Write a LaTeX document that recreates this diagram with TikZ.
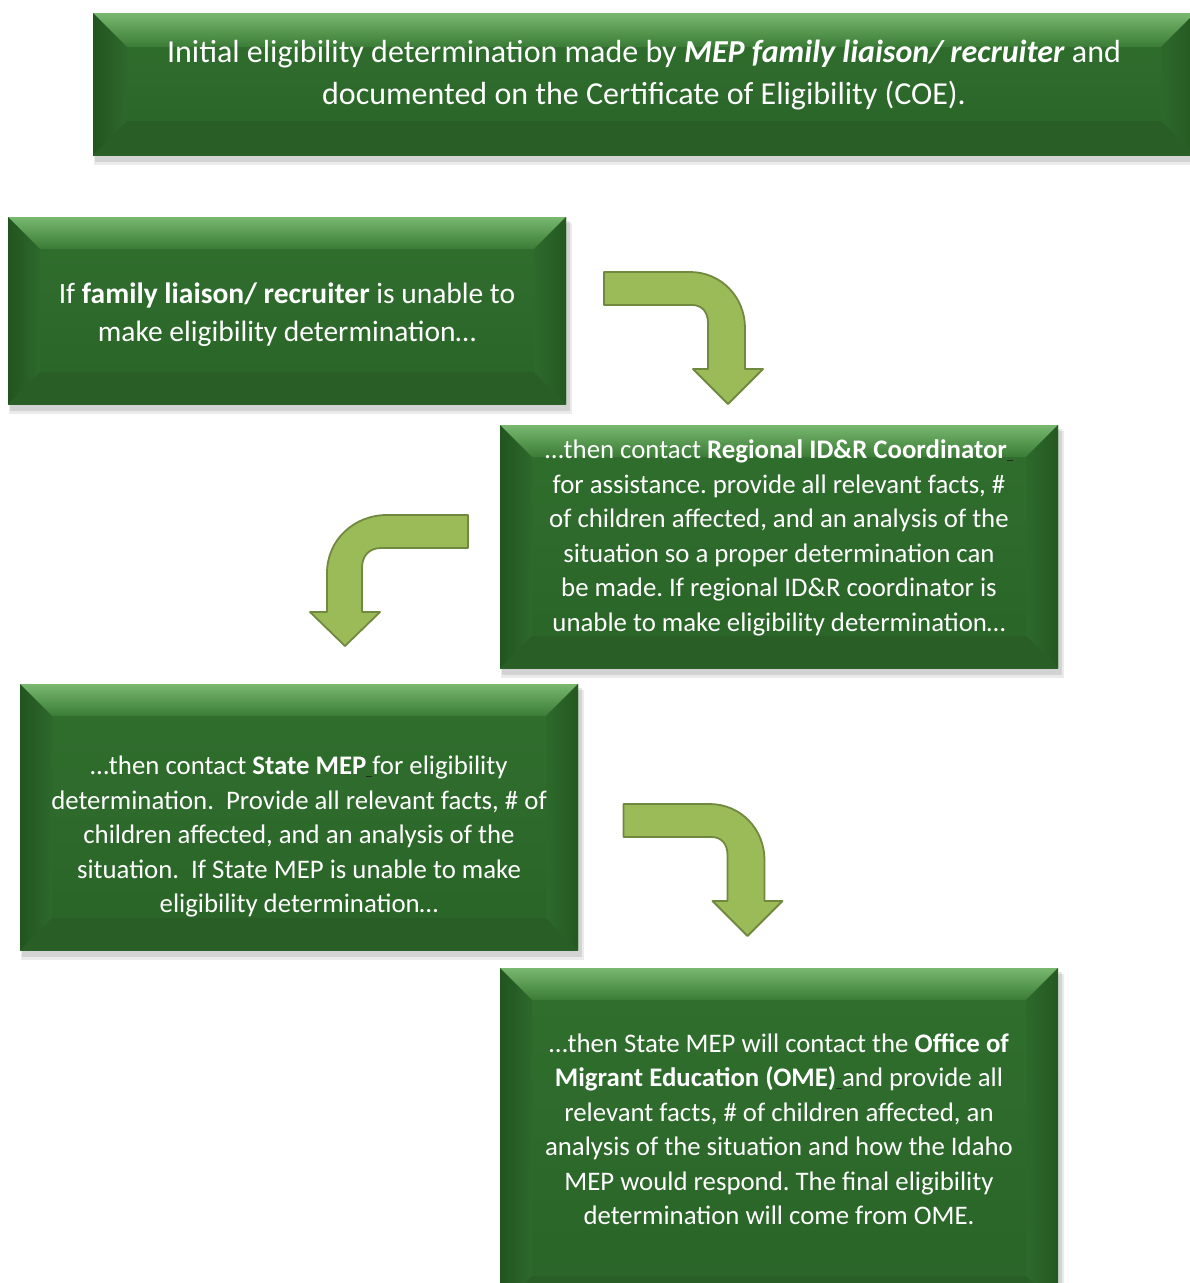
\documentclass[tikz,border=0pt]{standalone}
\usepackage{fontspec}
\setmainfont{Carlito}
\usetikzlibrary{calc}
\definecolor{faceTop}{HTML}{306F2E}
\definecolor{faceBot}{HTML}{2A6428}
\definecolor{bevTopA}{HTML}{78B86F}
\definecolor{bevTopB}{HTML}{3A7B36}
\definecolor{bevLo}{HTML}{22541F}
\definecolor{bevLi}{HTML}{2E692C}
\definecolor{bevRo}{HTML}{24591F}
\definecolor{bevB}{HTML}{295F26}
\definecolor{arrowFill}{HTML}{9BBB59}
\definecolor{arrowLine}{HTML}{71893F}
\newcommand\bevelbox[2]{%
  \fill[black,opacity=0.10] ($(#1.north west)+(2,4)$) rectangle ($(#1.south east)+(4,7)$);
  \fill[black,opacity=0.08] ($(#1.north west)+(1,6)$) rectangle ($(#1.south east)+(6,10)$);
  \shade[top color=faceTop,bottom color=faceBot] (#1.north west) rectangle (#1.south east);
  \shade[top color=bevTopA,bottom color=bevTopB] (#1.north west) -- (#1.north east) -- ($(#1.north east)+(-#2,#2)$) -- ($(#1.north west)+(#2,#2)$) -- cycle;
  \shade[left color=bevLo,right color=bevLi] (#1.north west) -- ($(#1.north west)+(#2,#2)$) -- ($(#1.south west)+(#2,-#2)$) -- (#1.south west) -- cycle;
  \shade[left color=bevLi,right color=bevRo] (#1.north east) -- ($(#1.north east)+(-#2,#2)$) -- ($(#1.south east)+(-#2,-#2)$) -- (#1.south east) -- cycle;
  \fill[bevB] (#1.south west) -- ($(#1.south west)+(#2,-#2)$) -- ($(#1.south east)+(-#2,-#2)$) -- (#1.south east) -- cycle;
}
\newcommand\uspace{\textcolor{black!85}{\rule[-2.5pt]{0.22em}{1pt}}}
\tikzset{
  boxnode/.style={rectangle, inner sep=0pt, outer sep=0pt},
  boxtext/.style={text=white, align=center, inner sep=0pt},
  bentarrow/.style={fill=arrowFill, draw=arrowLine, line width=1.8pt, line join=round},
}
\frenchspacing
\begin{document}
\begin{tikzpicture}[x=1pt,y=-1pt]
\useasboundingbox (0,0) rectangle (1190,1283);
\clip (0,0) rectangle (1190,1283);
\fill[white] (0,0) rectangle (1190,1283);

% boxes
\node[boxnode, minimum width=1102pt, minimum height=142pt] (b1) at (644,84) {};
\node[boxnode, minimum width=558pt, minimum height=187pt] (b2) at (287,310.5) {};
\node[boxnode, minimum width=558pt, minimum height=243pt] (b3) at (779,546.5) {};
\node[boxnode, minimum width=558pt, minimum height=266pt] (b4) at (299,817) {};
\node[boxnode, minimum width=558pt, minimum height=340pt] (b5) at (779,1138) {};
\bevelbox{b1}{34}
\bevelbox{b2}{32}
\bevelbox{b3}{32}
\bevelbox{b4}{32}
\bevelbox{b5}{32}

% texts
\node[boxtext, font=\fontsize{32}{42}\selectfont] (t1) at (644,75.5)
  {Initial eligibility determination made by \textbf{\textit{MEP family liaison/ recruiter}} and\\
   documented on the Certificate of Eligibility (COE).};
\node[boxtext, font=\fontsize{29.5}{38}\selectfont] (t2) at (287,315)
  {If \textbf{family liaison/ recruiter} is unable to\\make eligibility determination…};
\node[boxtext, font=\fontsize{26.8}{34.5}\selectfont] (t3) at (779,538)
  {…then contact \textbf{Regional ID\&R Coordinator}\uspace\\
   for assistance. provide all relevant facts, \#\\
   of children affected, and an analysis of the\\
   situation so a proper determination can\\
   be made. If regional ID\&R coordinator is\\
   unable to make eligibility determination…};
\node[boxtext, font=\fontsize{26.8}{34.5}\selectfont] (t4) at (299,836.5)
  {…then contact \textbf{State MEP}\uspace for eligibility\\
   determination.\ \ Provide all relevant facts, \# of\\
   children affected, and an analysis of the\\
   situation.\ \ If State MEP is unable to make\\
   eligibility determination…};
\node[boxtext, font=\fontsize{26.8}{34.5}\selectfont] (t5) at (779,1129)
  {…then State MEP will contact the \textbf{Office of}\\
   \textbf{Migrant Education (OME)}\uspace and provide all\\
   relevant facts, \# of children affected, an\\
   analysis of the situation and how the Idaho\\
   MEP would respond. The final eligibility\\
   determination will come from OME.};

% bent arrows
\draw[bentarrow] (604,272) -- (690,272) .. controls (721,272) and (745,297) .. (745,328)
  -- (745,369) -- (763,369) -- (728,404) -- (693,369) -- (708,369) -- (708,323)
  .. controls (708,312) and (702,305) .. (692,305) -- (604,305) -- cycle;
\draw[bentarrow] (468,515) -- (387,515) .. controls (354,515) and (327,540) .. (327,573)
  -- (327,612) -- (310,612) -- (345,646) -- (380,612) -- (362,612) -- (362,568)
  .. controls (362,556) and (369,548) .. (381,548) -- (468,548) -- cycle;
\begin{scope}[shift={(19.5,532)}]
\draw[bentarrow] (604,272) -- (690,272) .. controls (721,272) and (745,297) .. (745,328)
  -- (745,369) -- (763,369) -- (728,404) -- (693,369) -- (708,369) -- (708,323)
  .. controls (708,312) and (702,305) .. (692,305) -- (604,305) -- cycle;
\end{scope}
\end{tikzpicture}
\end{document}
